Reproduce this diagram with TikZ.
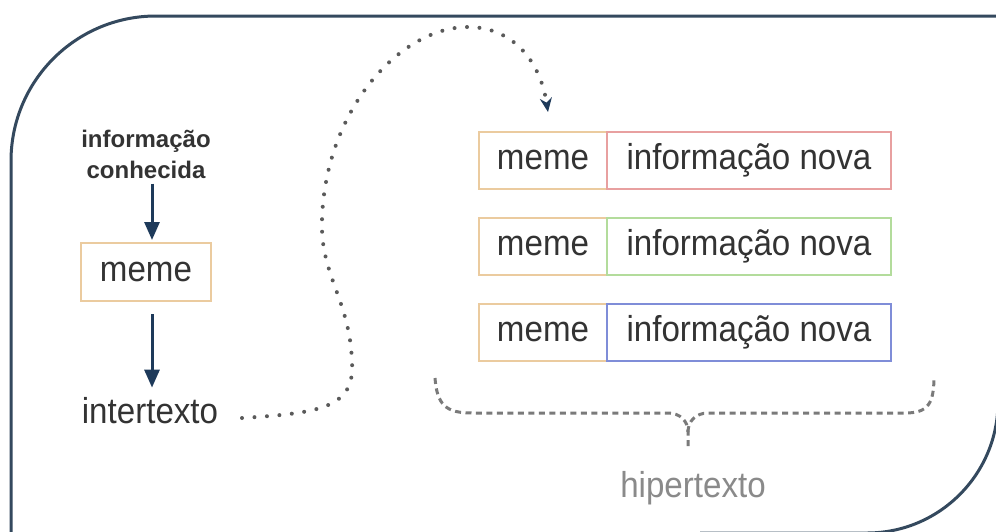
\documentclass[tikz,border=0pt]{standalone}
\usepackage{fontspec}
\setmainfont{Liberation Sans}
\newfontfamily\bodyf[FakeStretch=0.92]{Liberation Sans}
\usetikzlibrary{arrows.meta}
\definecolor{framec}{HTML}{34495E}
\definecolor{navy}{HTML}{1E3A5A}
\definecolor{memec}{HTML}{EBCB9F}
\definecolor{redc}{HTML}{E8A0A0}
\definecolor{greenc}{HTML}{B3DC9C}
\definecolor{bluec}{HTML}{7F8DD8}
\definecolor{txt}{HTML}{333333}
\definecolor{dotc}{HTML}{5A5A5A}
\definecolor{bracec}{HTML}{7A7A7A}
\definecolor{hipc}{HTML}{8A8A8A}
\tikzset{
  bigtext/.style={font=\bodyf\fontsize{36}{40}\selectfont, text=txt},
  memebox/.style={draw=memec, line width=2pt, minimum width=128pt, minimum height=57pt, inner sep=0pt, bigtext},
  infobox/.style={draw=#1, line width=2pt, minimum width=284pt, minimum height=57pt, inner sep=0pt, bigtext},
  bigarrow/.style={draw=navy, line width=3pt, -{Triangle[length=18pt,width=15pt]}},
  dotline/.style={draw=dotc, line width=4pt, line cap=round, dash pattern=on 0pt off 12.5pt},
  braceline/.style={draw=bracec, line width=3pt, dash pattern=on 6pt off 4.5pt},
}
\begin{document}
\begin{tikzpicture}[x=1pt,y=-1pt]
\useasboundingbox[fill=white] (0,0) rectangle (996,531);
% frame
\draw[framec, line width=3pt] (11,540) -- (11,161) arc[start angle=180, end angle=270, radius=145] -- (1010,16);
\draw[framec, line width=3pt] (998,300) -- (998,402) arc[start angle=0, end angle=90, radius=131] -- (700,533);
% left column
\node[font=\fontsize{24}{31}\selectfont\bfseries, text=txt, align=center, inner sep=0pt] (info) at (146,154) {informação\\conhecida};
\node[memebox, minimum width=130pt, minimum height=58pt] (meme0) at (146,272) {meme};
\node[bigtext, inner sep=0pt] (inter) at (150,411) {intertexto};
\draw[bigarrow] ([xshift=6pt,yshift=-5pt]info.south) -- ([xshift=6pt,yshift=2pt]meme0.north);
\draw[bigarrow] ([xshift=6pt,yshift=-12pt]meme0.south) -- ([xshift=2pt,yshift=10pt]inter.north);
% right boxes
\node[memebox] (m1) at (543,160) {meme};
\node[memebox] (m2) at (543,246) {meme};
\node[memebox] (m3) at (543,332) {meme};
\node[infobox=redc] (n1) at (749,160) {informação nova};
\node[infobox=greenc] (n2) at (749,246) {informação nova};
\node[infobox=bluec] (n3) at (749,332) {informação nova};
% dotted connector
\coordinate (dstart) at (242,418);
\coordinate (dend) at (548,112);
\draw[dotline, -{Stealth[length=14pt,width=12pt,color=navy]}] (dstart) .. controls (320,413) and (355,408) .. (352,362)
  .. controls (350,300) and (320,275) .. (322,220)
  .. controls (325,110) and (400,27) .. (468,27)
  .. controls (512,27) and (540,60) .. (dend);
% brace
\draw[braceline] (435,378) .. controls (437,405) and (446,413) .. (472,413) -- (668,413)
  .. controls (680,413) and (688,421) .. (688,432) -- (688,450);
\draw[braceline] (688,432) .. controls (688,421) and (696,413) .. (708,413) -- (905,413)
  .. controls (928,413) and (934,404) .. (934,376);
\node[bigtext, text=hipc, inner sep=0pt] (hip) at (693,488) {hipertexto};
\end{tikzpicture}
\end{document}
